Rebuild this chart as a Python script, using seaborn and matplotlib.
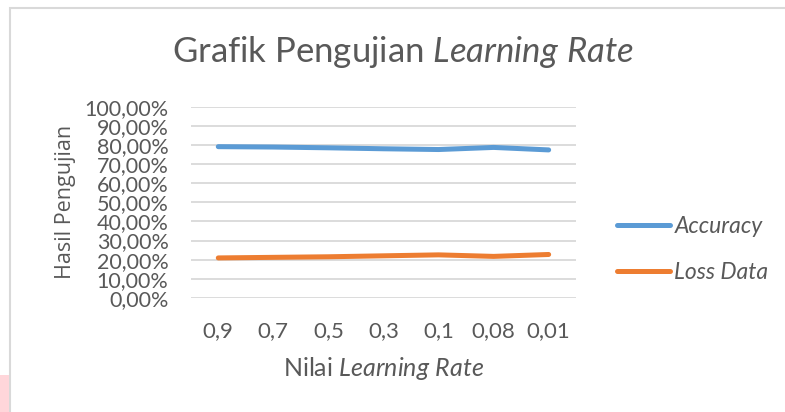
import numpy as np
import pandas as pd
import matplotlib
matplotlib.use("Agg")
import matplotlib.pyplot as plt
import seaborn as sns
from matplotlib.patches import Rectangle
from matplotlib.ticker import FuncFormatter

# data
learning_rate = ['0,9', '0,7', '0,5', '0,3', '0,1', '0,08', '0,01']
accuracy = [0.791, 0.789, 0.785, 0.780, 0.776, 0.787, 0.774]
loss_data = [0.209, 0.212, 0.215, 0.220, 0.225, 0.217, 0.227]
series_names = ['Accuracy', 'Loss Data']
yticks = np.arange(0, 1.01, 0.1)

df = pd.DataFrame({
    'lr': learning_rate * 2,
    'nilai': accuracy + loss_data,
    'seri': [series_names[0]] * len(learning_rate) + [series_names[1]] * len(learning_rate),
})

sns.set_style('white')
plt.rcParams['font.family'] = ['Lato', 'DejaVu Sans']
plt.rcParams['mathtext.fontset'] = 'custom'
plt.rcParams['mathtext.rm'] = 'Lato'
plt.rcParams['mathtext.it'] = 'Lato:italic'

teks = '#595959'
fig = plt.figure(figsize=(7.85, 4.12), dpi=100)
ax = fig.add_axes([0.243, 0.277, 0.491, 0.464])

sns.lineplot(data=df, x='lr', y='nilai', hue='seri', sort=False, ax=ax,
             palette={'Accuracy': '#5B9BD5', 'Loss Data': '#ED7D31'},
             linewidth=3.6, solid_capstyle='round')

ax.set_ylim(0, 1)
ax.set_xlim(-0.5, len(learning_rate) - 0.5)
ax.set_yticks(yticks)
ax.yaxis.set_major_formatter(FuncFormatter(lambda v, p: f'{v*100:.2f}%'.replace('.', ',')))
ax.grid(axis='y', color='#D9D9D9', linewidth=1.3)
ax.set_axisbelow(True)
for s in ax.spines.values():
    s.set_visible(False)
ax.tick_params(axis='y', length=0, pad=16, labelsize=15.5, labelcolor=teks)
ax.tick_params(axis='x', length=0, pad=17, labelsize=16, labelcolor=teks)

ax.set_xlabel(r'Nilai $\mathit{Learning\ Rate}$', fontsize=18, color=teks, labelpad=10)
ax.set_ylabel('Hasil Pengujian', fontsize=15.5, color=teks, family=['Open Sans', 'DejaVu Sans'], labelpad=6)

leg = ax.legend(loc='center left', bbox_to_anchor=(1.106, 0.255), frameon=False,
                borderpad=0, borderaxespad=0,
                handlelength=2.3, handletextpad=0.2, labelspacing=1.1,
                prop={'style': 'italic', 'size': 16.5})
for t in leg.get_texts():
    t.set_color(teks)

fig.text(0.513, 0.873, r'Grafik Pengujian $\mathit{Learning\ Rate}$', ha='center', va='center',
         fontsize=25, color=teks)

# chart frame and the pink corner
fig.patches.append(Rectangle((10 / 785, -0.1), 1.2, 1.08 - 8 / 412 + 0.02, transform=fig.transFigure,
                             fill=False, edgecolor='#D9D9D9', linewidth=1.5))
fig.patches.append(Rectangle((0, 0), 9 / 785, 37 / 412, transform=fig.transFigure,
                             facecolor='#FFD6DA', edgecolor='none'))

fig.savefig('out.png', dpi=100)
